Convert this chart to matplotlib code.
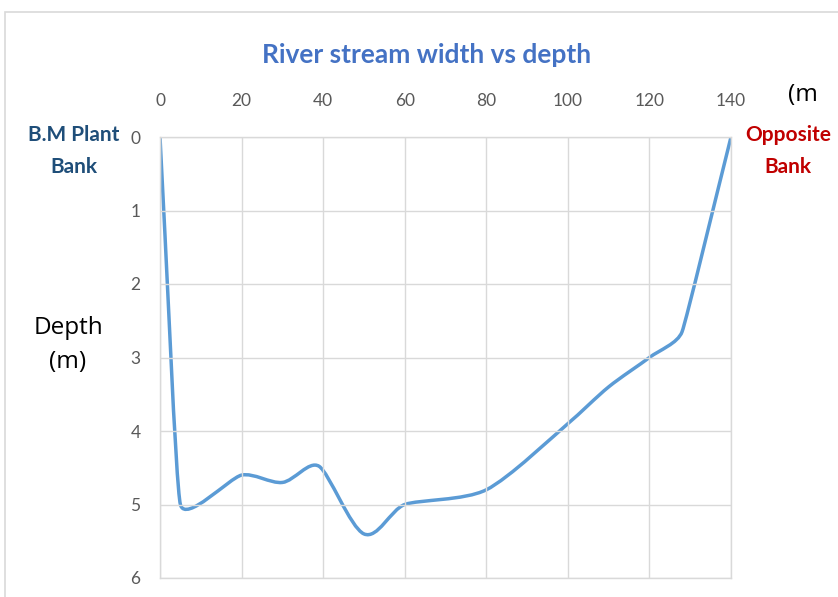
import numpy as np
import matplotlib
matplotlib.use('Agg')
import matplotlib.pyplot as plt
from matplotlib.path import Path
from matplotlib.patches import PathPatch, Rectangle

# ==========================================
# DATA
# ==========================================
width_m = [0, 5, 20, 30, 39, 50, 60, 80, 100, 110, 120, 128, 140]
depth_m = [0, 5.0, 4.6, 4.7, 4.48, 5.4, 5.0, 4.8, 3.9, 3.4, 3.0, 2.65, 0]
x_ticks = [0, 20, 40, 60, 80, 100, 120, 140]
y_ticks = [0, 1, 2, 3, 4, 5, 6]

LINE_COLOR = '#5B9BD5'
GRID_COLOR = '#D9D9D9'
TICK_COLOR = '#595959'
SMOOTH_K = 0.3  # handle length as a share of the shorter neighbouring segment


def smooth_path(ax, xs, ys):
    """Excel-like smoothed line, built in screen space; handle lengths
    follow the shorter neighbouring segment so nothing overshoots."""
    pts = ax.transData.transform(np.column_stack([xs, ys]).astype(float))
    n = len(pts)
    seg = np.hypot(*(pts[1:] - pts[:-1]).T)
    tang, hlen = [], []
    for i in range(n):
        d = pts[min(i + 1, n - 1)] - pts[max(i - 1, 0)]
        tang.append(d / np.hypot(*d))
        near = [seg[j] for j in (i - 1, i) if 0 <= j < n - 1]
        hlen.append(SMOOTH_K * min(near))
    verts = [pts[0]]
    codes = [Path.MOVETO]
    for i in range(n - 1):
        verts += [pts[i] + tang[i] * hlen[i],
                  pts[i + 1] - tang[i + 1] * hlen[i + 1],
                  pts[i + 1]]
        codes += [Path.CURVE4] * 3
    verts = ax.transData.inverted().transform(np.array(verts))
    return Path(verts, codes)


fig = plt.figure(figsize=(8.38, 5.97), dpi=100)

# outer chart frame
fig.patches.append(Rectangle((5 / 838, -0.1), 1.1, 1 - 12 / 597 + 0.1,
                             transform=fig.transFigure, fill=False,
                             edgecolor='#D9D9D9', linewidth=1.2))

ax = fig.add_axes([160 / 838, 1 - 578 / 597, 571 / 838, 441 / 597])
ax.set_xlim(0, 140)
ax.set_ylim(6, 0)
ax.set_xticks(x_ticks)
ax.set_yticks(y_ticks)
ax.xaxis.tick_top()
ax.tick_params(length=0, colors=TICK_COLOR, labelsize=12.5)
ax.tick_params(axis='x', pad=20)
ax.tick_params(axis='y', pad=14)
for lab in ax.get_xticklabels() + ax.get_yticklabels():
    lab.set_fontfamily('Lato')
ax.grid(True, color=GRID_COLOR, linewidth=1)
for sp in ax.spines.values():
    sp.set_color(GRID_COLOR)
    sp.set_linewidth(1)

ax.add_patch(PathPatch(smooth_path(ax, width_m, depth_m), facecolor='none',
                       edgecolor=LINE_COLOR, linewidth=2.5, capstyle='round',
                       joinstyle='round'))

fig.text(427 / 838, 1 - 55 / 597, 'River stream width vs depth', color='#4472C4',
         fontsize=19, fontweight='bold', family='Lato', ha='center', va='center')
fig.text(803 / 838, 1 - 95 / 597, '(m', color='black', fontsize=17.5,
         family='Open Sans', ha='center', va='center')
fig.text(74 / 838, 1 - 151 / 597, 'B.M Plant\nBank', color='#1F4E79',
         fontsize=15, fontweight='bold', family='Lato', ha='center',
         va='center', linespacing=1.75)
fig.text(788 / 838, 1 - 151 / 597, 'Opposite\nBank', color='#C00000',
         fontsize=15, fontweight='bold', family='Lato', ha='center',
         va='center', linespacing=1.75)
fig.text(68 / 838, 1 - 345 / 597, 'Depth\n(m)', color='black', fontsize=17.5,
         family='Open Sans', ha='center', va='center', linespacing=1.6)

fig.savefig('out.png', dpi=100)
